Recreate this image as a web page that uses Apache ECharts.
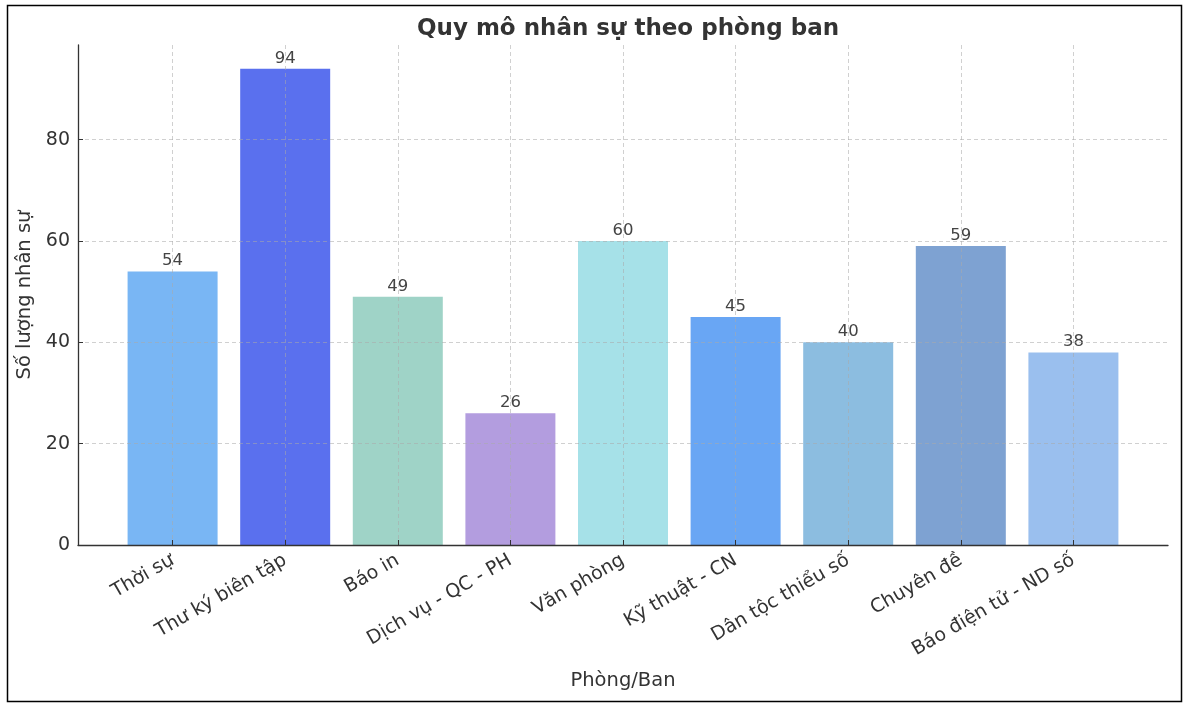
<!DOCTYPE html>
<html>
<head>
<meta charset="utf-8">
<script src="https://cdn.jsdelivr.net/npm/echarts@6/dist/echarts.min.js"></script>
<style>html,body{margin:0;padding:0;background:#fff}#c{width:1185px;height:704px}</style>
</head>
<body>
<div id="c"></div>
<script>
const categories = ["Thời sự", "Thư ký biên tập", "Báo in", "Dịch vụ - QC - PH", "Văn phòng", "Kỹ thuật - CN", "Dân tộc thiểu số", "Chuyên đề", "Báo điện tử - ND số"];
const values = [54, 94, 49, 26, 60, 45, 40, 59, 38];
const colors = ["#79b6f4", "#5a70ee", "#9fd3c7", "#b39ddf", "#a6e1e8", "#69a6f4", "#8cbde0", "#7ea2d2", "#9abfee"];
const yTicks = [0, 20, 40, 60, 80];

const font = "DejaVu Sans";
const chart = echarts.init(document.getElementById('c'));
const gridLine = { show: true, lineStyle: { color: 'rgba(170,170,170,0.55)', type: [4, 3], width: 1 } };
const catIdx = categories.map((c, i) => i);
chart.setOption({
  animation: false,
  textStyle: { fontFamily: font },
  title: {
    text: 'Quy mô nhân sự theo phòng ban',
    left: 623, top: 13, textAlign: 'center',
    textStyle: { fontFamily: font, fontSize: 23, fontWeight: 'bold', color: '#333' }
  },
  graphic: [{
    type: 'rect', left: 5, top: 3, shape: { width: 1174, height: 696 },
    style: { fill: 'none', stroke: '#000', lineWidth: 1.5 }, z: 100
  }],
  grid: { left: 78, right: 17, top: 45, bottom: 159 },
  xAxis: {
    type: 'value', min: -0.84, max: 8.84, z: 5,
    name: 'Phòng/Ban', nameLocation: 'middle', nameGap: 126,
    nameTextStyle: { fontFamily: font, fontSize: 19.5, color: '#333' },
    axisLine: { show: true, onZero: false, lineStyle: { color: '#333', width: 1.3 } },
    axisTick: { show: true, inside: true, length: 5, customValues: catIdx, lineStyle: { color: '#333' } },
    axisLabel: {
      customValues: catIdx,
      formatter: v => categories[Math.round(v)],
      rotate: 30, margin: 14, fontSize: 19, color: '#333', fontFamily: font
    },
    splitLine: gridLine
  },
  yAxis: {
    type: 'value', min: 0, max: 98.7, interval: 20, z: 5,
    name: 'Số lượng nhân sự', nameLocation: 'middle', nameGap: 41,
    nameTextStyle: { fontFamily: font, fontSize: 19.5, color: '#333' },
    axisLine: { show: true, onZero: false, lineStyle: { color: '#333', width: 1.3 } },
    axisTick: { show: true, inside: true, length: 5, customValues: yTicks, lineStyle: { color: '#333' } },
    axisLabel: { customValues: yTicks, fontSize: 19, color: '#333', fontFamily: font, margin: 8 },
    splitLine: gridLine
  },
  series: [{
    type: 'bar',
    barWidth: 90,
    data: values.map((v, i) => ({ value: [i, v], itemStyle: { color: colors[i] } })),
    label: { show: true, position: 'top', distance: 2, fontSize: 16.5, color: '#444', fontFamily: font, formatter: p => p.value[1] }
  }]
});
</script>
</body>
</html>
